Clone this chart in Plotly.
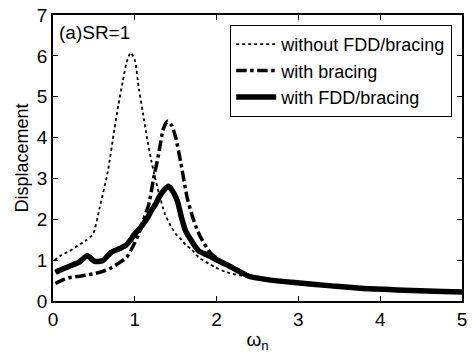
import plotly.graph_objects as go

# without FDD/bracing (dotted)
x_without = [0.02, 0.1, 0.2, 0.3, 0.4, 0.49, 0.57, 0.67, 0.75, 0.8, 0.85, 0.9, 0.95, 1.0, 1.05, 1.1, 1.15, 1.2, 1.25, 1.3, 1.37, 1.45, 1.5, 1.58, 1.62, 1.7, 1.78, 1.9, 1.98, 2.1, 2.3, 2.5, 2.8, 3.0, 3.5, 4.0, 4.5, 5.0]
y_without = [1.0, 1.12, 1.22, 1.35, 1.48, 1.64, 2.28, 3.17, 4.2, 4.8, 5.35, 5.84, 6.08, 5.9, 5.19, 4.6, 3.98, 3.45, 3.0, 2.6, 2.12, 1.8, 1.64, 1.48, 1.38, 1.25, 1.07, 0.92, 0.83, 0.72, 0.62, 0.55, 0.47, 0.43, 0.36, 0.31, 0.26, 0.22]

# with bracing (dash-dot)
x_bracing = [0.03, 0.1, 0.2, 0.3, 0.4, 0.5, 0.6, 0.7, 0.8, 0.9, 0.97, 1.05, 1.1, 1.17, 1.23, 1.29, 1.35, 1.40, 1.45, 1.50, 1.56, 1.64, 1.70, 1.76, 1.82, 1.92, 2.0, 2.1, 2.2, 2.4, 2.6, 3.0, 3.5, 4.0, 4.5, 5.0]
y_bracing = [0.43, 0.5, 0.57, 0.6, 0.63, 0.67, 0.72, 0.8, 0.92, 1.07, 1.31, 1.65, 1.95, 2.36, 3.0, 3.58, 4.22, 4.40, 4.3, 4.0, 3.41, 2.53, 2.1, 1.75, 1.5, 1.19, 1.05, 0.92, 0.83, 0.62, 0.53, 0.44, 0.36, 0.30, 0.25, 0.22]

# with FDD/bracing (thick solid)
x_fdd = [0.03, 0.08, 0.2, 0.32, 0.42, 0.51, 0.61, 0.71, 0.81, 0.89, 0.95, 0.99, 1.05, 1.13, 1.2, 1.25, 1.3, 1.36, 1.41, 1.46, 1.52, 1.57, 1.62, 1.7, 1.78, 1.88, 1.98, 2.08, 2.18, 2.3, 2.4, 2.6, 2.95, 3.4, 3.76, 4.2, 4.77, 5.0]
y_fdd = [0.7, 0.75, 0.85, 0.95, 1.11, 0.97, 0.99, 1.19, 1.28, 1.36, 1.5, 1.62, 1.75, 1.96, 2.2, 2.36, 2.55, 2.72, 2.81, 2.7, 2.45, 2.05, 1.72, 1.45, 1.23, 1.13, 1.03, 0.93, 0.83, 0.7, 0.6, 0.53, 0.45, 0.37, 0.31, 0.27, 0.23, 0.22]

x_ticks = [0, 1, 2, 3, 4, 5]
y_ticks = [0, 1, 2, 3, 4, 5, 6, 7]

FONT = "Liberation Sans, Arial, sans-serif"

fig = go.Figure()
fig.add_trace(go.Scatter(x=x_fdd, y=y_fdd, mode="lines", name="with FDD/bracing",
                         line=dict(color="black", width=5.5, shape="spline", smoothing=0.6),
                         legendrank=3))
fig.add_trace(go.Scatter(x=x_bracing, y=y_bracing, mode="lines", name="with bracing",
                         line=dict(color="black", width=3.5, dash="dashdot", shape="spline", smoothing=0.6),
                         legendrank=2))
fig.add_trace(go.Scatter(x=x_without, y=y_without, mode="lines", name="without FDD/bracing",
                         line=dict(color="black", width=1.8, dash="dot", shape="spline", smoothing=0.6),
                         legendrank=1))

axis_common = dict(showline=True, linecolor="black", linewidth=1.5, mirror="ticks",
                   ticks="inside", ticklen=5, tickcolor="black", showgrid=False,
                   zeroline=False, tickfont=dict(family=FONT, size=19, color="black"))

fig.update_layout(
    width=472, height=359,
    margin=dict(l=53, r=5, t=13, b=58),
    paper_bgcolor="white", plot_bgcolor="white",
    font=dict(family=FONT, color="black"),
    xaxis=dict(range=[0, 5], tickvals=x_ticks, **axis_common,
               title=dict(text="ω<sub>n</sub>", font=dict(family=FONT, size=19), standoff=4)),
    yaxis=dict(range=[0, 7], tickvals=y_ticks, **axis_common,
               title=dict(text="Displacement", font=dict(family=FONT, size=18), standoff=4)),
    legend=dict(x=0.976, y=0.965, xanchor="right", yanchor="top",
                bordercolor="black", borderwidth=1, bgcolor="white",
                font=dict(family=FONT, size=18), tracegroupgap=0, itemwidth=40),
    showlegend=True,
)
fig.add_annotation(text="(a)SR=1", xref="paper", yref="paper", x=0.01, y=0.94,
                   xanchor="left", yanchor="middle", showarrow=False,
                   font=dict(family=FONT, size=19, color="black"))

fig.write_html("out.html")
